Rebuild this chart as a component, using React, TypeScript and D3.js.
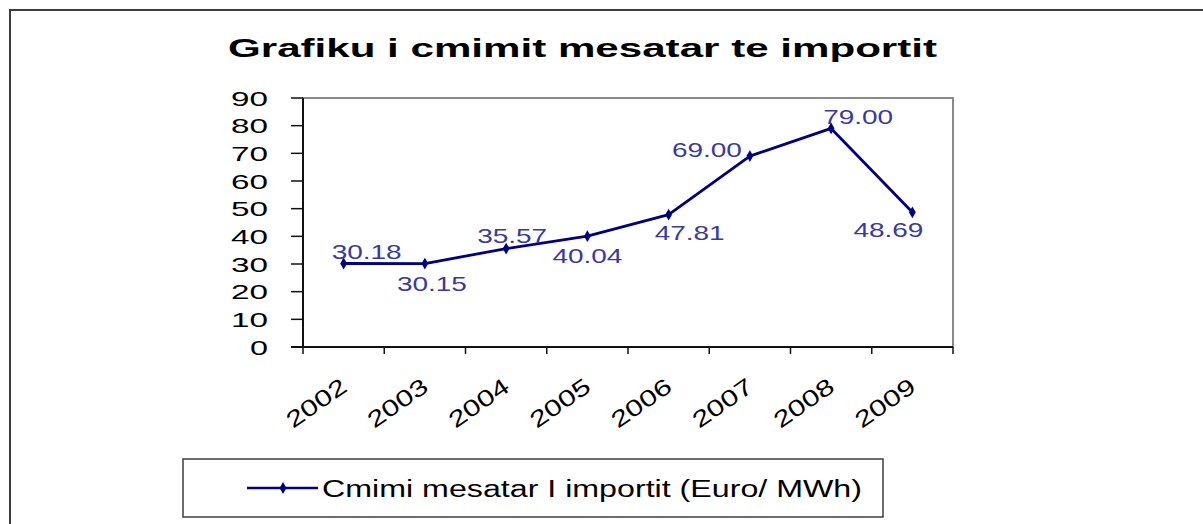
import * as d3 from "d3";

const years = ["2002", "2003", "2004", "2005", "2006", "2007", "2008", "2009"];
const prices = [30.18, 30.15, 35.57, 40.04, 47.81, 69.0, 79.0, 48.69];
const yTicks = [0, 10, 20, 30, 40, 50, 60, 70, 80, 90];
// label placement around each point (px): horizontal shift, baseline shift
const labelDx = [23, 7, 6, 0, 21, -43, 27, -24];
const labelDy = [-4.5, 27, -6, 27, 25, 1, -4, 25];

const title = "Grafiku i cmimit mesatar te importit";
const seriesName = "Cmimi mesatar I importit (Euro/ MWh)";

const W = 1203;
const H = 524;
const plot = { left: 303, right: 953, top: 98, bottom: 347 };
const navy = "#000080";
const labelBlue = "#3a3a9e";
const font = "'Liberation Sans', Arial, sans-serif";

export default function App() {
  const x = d3.scaleBand().domain(years).range([plot.left, plot.right]).padding(0);
  const y = d3.scaleLinear().domain([0, 90]).range([plot.bottom, plot.top]);
  const cx = (yr: string) => (x(yr) ?? 0) + x.bandwidth() / 2;

  const line = d3
    .line<number>()
    .x((_, i) => cx(years[i]))
    .y((d) => y(d));

  const diamond = d3.symbol(d3.symbolDiamond, 40)();
  const edges = years.map((yr) => x(yr) ?? 0).concat([plot.right]);

  return (
    <svg
      width={W}
      height={H}
      style={{ position: "absolute", left: 0, top: 0, background: "#fff" }}
      fontFamily={font}
    >
      {/* outer frame */}
      <rect x={10} y={10} width={W} height={H} fill="#fff" stroke="#3c3c3c" strokeWidth={2} />

      <text x={228} y={57} fontSize={25} fontWeight="bold" textLength={709} lengthAdjust="spacingAndGlyphs">
        {title}
      </text>

      {/* plot area frame */}
      <rect
        x={plot.left}
        y={plot.top}
        width={plot.right - plot.left}
        height={plot.bottom - plot.top}
        fill="none"
        stroke="#8a8a8a"
        strokeWidth={2}
      />
      <line x1={plot.left} x2={plot.left} y1={plot.top} y2={plot.bottom} stroke="#111" strokeWidth={2} />
      <line x1={plot.left - 12} x2={plot.right} y1={plot.bottom} y2={plot.bottom} stroke="#111" strokeWidth={2} />

      {yTicks.map((t) => (
        <g key={t}>
          <line x1={plot.left - 12} x2={plot.left} y1={y(t)} y2={y(t)} stroke="#111" strokeWidth={1.5} />
          <text
            x={268}
            y={y(t) + 7.5}
            fontSize={21}
            textAnchor="end"
            textLength={t === 0 ? 18 : 37}
            lengthAdjust="spacingAndGlyphs"
          >
            {t}
          </text>
        </g>
      ))}

      {edges.map((e, i) => (
        <line key={i} x1={e} x2={e} y1={plot.bottom} y2={plot.bottom + 7} stroke="#111" strokeWidth={1.5} />
      ))}

      {years.map((yr) => (
        <text
          key={yr}
          transform={`translate(${cx(yr) + 5},390) rotate(-35)`}
          fontSize={23}
          textAnchor="end"
          textLength={68}
          lengthAdjust="spacingAndGlyphs"
        >
          {yr}
        </text>
      ))}

      <path d={line(prices) ?? ""} fill="none" stroke={navy} strokeWidth={2.8} strokeLinejoin="round" />
      {prices.map((p, i) => (
        <path key={i} d={diamond} transform={`translate(${cx(years[i])},${y(p)})`} fill={navy} />
      ))}
      {prices.map((p, i) => (
        <text
          key={i}
          x={cx(years[i]) + labelDx[i]}
          y={y(p) + labelDy[i]}
          fontSize={21}
          fill={labelBlue}
          textAnchor="middle"
          textLength={70}
          lengthAdjust="spacingAndGlyphs"
        >
          {p.toFixed(2)}
        </text>
      ))}

      {/* legend */}
      <rect x={183} y={459} width={700} height={58} fill="#fff" stroke="#3c3c3c" strokeWidth={1.5} />
      <line x1={247} x2={318} y1={488} y2={488} stroke={navy} strokeWidth={2.5} />
      <path d={diamond} transform="translate(283,488)" fill={navy} />
      <text x={322} y={497} fontSize={23} textLength={540} lengthAdjust="spacingAndGlyphs">
        {seriesName}
      </text>
    </svg>
  );
}
